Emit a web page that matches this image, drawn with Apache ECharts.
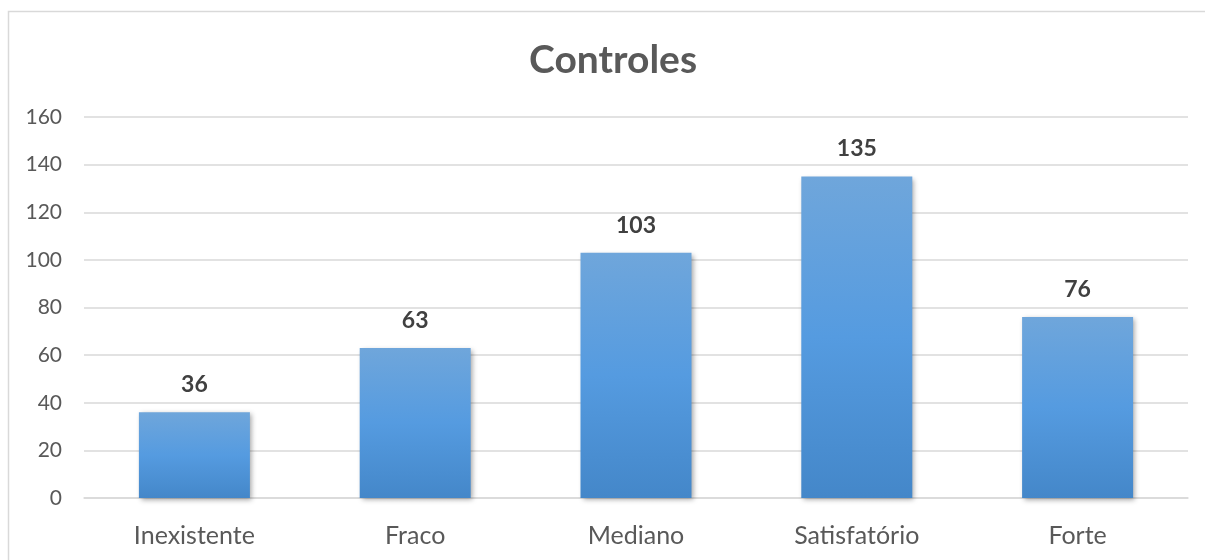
<!DOCTYPE html>
<html>
<head>
<meta charset="utf-8">
<script src="https://cdn.jsdelivr.net/npm/echarts@6/dist/echarts.min.js"></script>
<style>
html,body{margin:0;padding:0;background:#fff;}
#chart{width:1205px;height:560px;}
</style>
</head>
<body>
<div id="chart"></div>
<script>
const categories = ['Inexistente', 'Fraco', 'Mediano', 'Satisfatório', 'Forte'];
const values = [36, 63, 103, 135, 76];
const titleText = 'Controles';
const yMin = 0, yMax = 160, yInterval = 20;

const chart = echarts.init(document.getElementById('chart'));
const font = 'Lato, "Open Sans", "Liberation Sans", sans-serif';
chart.setOption({
  backgroundColor: '#ffffff',
  animation: false,
  graphic: [{
    type: 'rect',
    shape: { x: 8.5, y: 11.5, width: 1220, height: 600 },
    style: { fill: 'none', stroke: '#d9d9d9', lineWidth: 1.5 },
    silent: true, z: -1
  }],
  title: {
    text: titleText,
    left: 524,
    top: 36,
    textStyle: { fontFamily: font, fontSize: 39, fontWeight: 'bold', color: '#595959' }
  },
  grid: { left: 84, right: 17, top: 117, bottom: 62, containLabel: false },
  xAxis: {
    type: 'category',
    data: categories,
    axisLine: { show: true, lineStyle: { color: '#d9d9d9', width: 1.5 } },
    axisTick: { show: false },
    axisLabel: { fontFamily: font, fontSize: 25, color: '#595959', margin: 25 }
  },
  yAxis: {
    type: 'value',
    min: yMin, max: yMax, interval: yInterval,
    axisLine: { show: false },
    axisTick: { show: false },
    splitLine: { lineStyle: { color: '#d9d9d9', width: 1.5 } },
    axisLabel: { fontFamily: font, fontSize: 21, color: '#595959', margin: 22 }
  },
  series: [{
    type: 'bar',
    data: values,
    barWidth: 111,
    itemStyle: {
      color: new echarts.graphic.LinearGradient(0, 0, 0, 1, [
        { offset: 0, color: '#6fa6db' },
        { offset: 0.5, color: '#559be0' },
        { offset: 1, color: '#4487c9' }
      ]),
      shadowColor: 'rgba(0,0,0,0.35)',
      shadowBlur: 5,
      shadowOffsetX: 2,
      shadowOffsetY: 2
    },
    label: {
      show: true,
      position: 'top',
      distance: 16,
      fontFamily: font,
      fontSize: 23,
      fontWeight: 'bold',
      color: '#404040'
    }
  }]
});
</script>
</body>
</html>
